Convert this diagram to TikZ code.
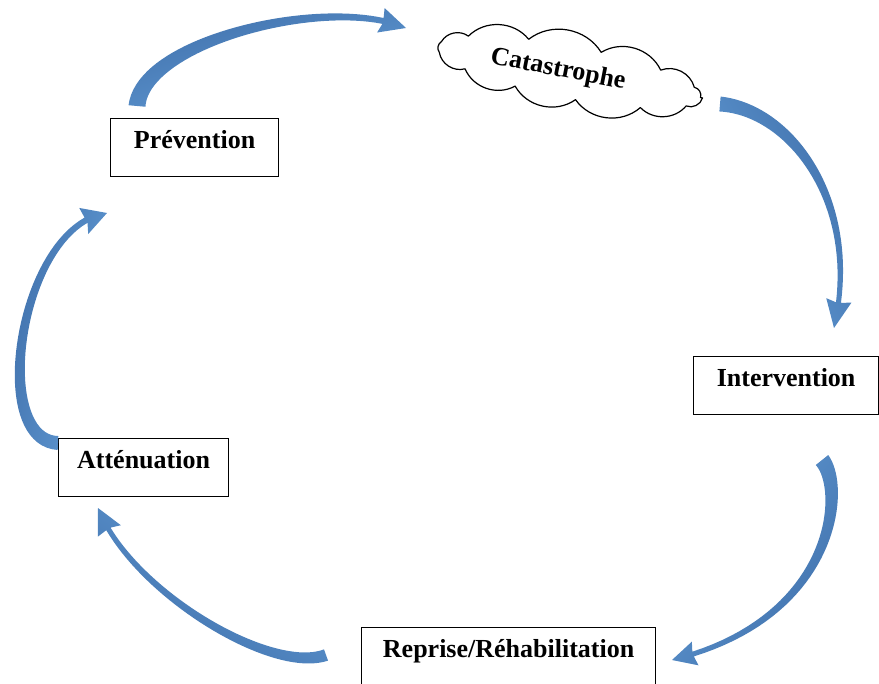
\documentclass[tikz,border=0pt]{standalone}
\usepackage{fontspec}
\setmainfont{Liberation Serif}
\usetikzlibrary{calc}
\definecolor{arrdark}{RGB}{65,113,172}
\definecolor{arrlight}{RGB}{98,156,214}
% #1 coordinate prefix, #2 tail width (px), #3 width before head (px), #4 t of head base, #5 head half width (px), #6 shading angle
\newcommand\cyclearrow[6]{%
  \foreach \i in {0,...,40}{%
    \pgfmathsetmacro\cT{#4*\i/40}%
    \pgfmathsetmacro\cW{0.375*(#3+(#2-#3)*(1-\i/40)^1.3)}%
    \coordinate (q1) at ($(#1-0)!\cT!(#1-1)$);
    \coordinate (q2) at ($(#1-1)!\cT!(#1-2)$);
    \coordinate (q3) at ($(#1-2)!\cT!(#1-3)$);
    \coordinate (r1) at ($(q1)!\cT!(q2)$);
    \coordinate (r2) at ($(q2)!\cT!(q3)$);
    \coordinate (c\i) at ($(r1)!\cT!(r2)$);
    \coordinate (nl) at ($(r1)!\cW pt!90:(r2)$);
    \coordinate (nr) at ($(r1)!\cW pt!-90:(r2)$);
    \coordinate (L\i) at ($(c\i)+(nl)-(r1)$);
    \coordinate (R\i) at ($(c\i)+(nr)-(r1)$);
  }
  \pgfmathsetmacro\cH{0.75*#5}%
  \coordinate (hl) at ($(c40)!\cH pt!100:(#1-3)$);
  \coordinate (hr) at ($(c40)!\cH pt!-100:(#1-3)$);
  \shade[left color=arrdark, right color=arrlight, shading angle=#6]
    (L0) \foreach \i in {1,...,40}{-- (L\i)} -- (hl) -- (#1-3) -- (hr)
    \foreach \i in {40,39,...,0}{-- (R\i)} -- cycle;
}
\begin{document}
\begin{tikzpicture}[x=0.75pt,y=-0.75pt,
  lbl/.style={font=\bfseries\fontsize{19.5pt}{23pt}\selectfont},
  box/.style={lbl, draw=black, line width=0.9pt, rectangle, inner sep=0pt,
    text height=22.5pt, text depth=21pt, anchor=north west},
  cloudline/.style={draw=black, line width=0.9pt, line join=round}]
\useasboundingbox (0,0) rectangle (879,684);
\clip (0,0) rectangle (879,684);

\node[box, minimum width=126pt] (prev) at (110,118) {Prévention};
\node[box, minimum width=138.75pt] (interv) at (693,356) {Intervention};
\node[box, minimum width=127.5pt] (atten) at (58,438) {Atténuation};
\node[box, minimum width=220.5pt, text depth=40pt] (repr) at (361,627) {Reprise/Réhabilitation};

% cloud
\begin{scope}[shift={(569,72)}, rotate=-11]
  \path[cloudline, fill=white] (136,0)
    \foreach \th in {25,55,85,112,140,168,192,218,250,282,312,340,360}
      { to[bend left=48] ({134*cos(\th)},{26*sin(\th)}) } -- cycle;
\end{scope}
\node[lbl, rotate=-11, inner sep=0pt] (cat) at (558,70) {Catastrophe};

% Prévention -> Catastrophe
\coordinate (a1-0) at (137,106);
\coordinate (a1-1) at (143,40);
\coordinate (a1-2) at (330,-5);
\coordinate (a1-3) at (406,28);
\cyclearrow{a1}{17}{6}{0.91}{13}{16}

% Catastrophe -> Intervention
\coordinate (a2-0) at (720,104);
\coordinate (a2-1) at (792,110);
\coordinate (a2-2) at (862,205);
\coordinate (a2-3) at (834,328);
\cyclearrow{a2}{15}{5}{0.93}{13}{-63}

% Intervention -> Reprise
\coordinate (a3-0) at (822,460);
\coordinate (a3-1) at (846,490);
\coordinate (a3-2) at (835,620);
\coordinate (a3-3) at (672,660);
\cyclearrow{a3}{16}{5}{0.955}{12.5}{-127}

% Reprise -> Atténuation
\coordinate (a4-0) at (326,655);
\coordinate (a4-1) at (270,675);
\coordinate (a4-2) at (130,590);
\coordinate (a4-3) at (98,508);
\cyclearrow{a4}{12}{5}{0.915}{13}{147}

% Atténuation -> Prévention
\coordinate (a5-0) at (58,443);
\coordinate (a5-1) at (-12,440);
\coordinate (a5-2) at (20,225);
\coordinate (a5-3) at (107,213);
\cyclearrow{a5}{14}{6}{0.915}{14}{78}
\end{tikzpicture}
\end{document}
